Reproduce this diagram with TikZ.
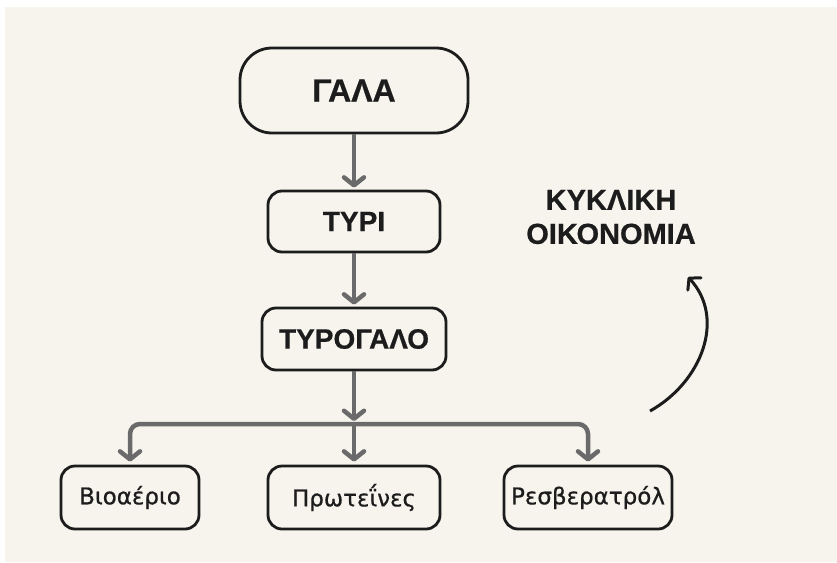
\documentclass[tikz,border=0pt]{standalone}
\usepackage{fontspec}
\setmainfont{Liberation Sans}[BoldFeatures={FakeBold=0.6}]
\newfontfamily\labelfont{DejaVu Sans}[FakeBold=0.7]
\usetikzlibrary{arrows.meta}
\definecolor{paper}{HTML}{F7F4EE}
\definecolor{ink}{HTML}{1C1C1C}
\definecolor{flow}{HTML}{6A6A6A}
\tikzset{
  box/.style={draw=ink, line width=2.8pt, fill=paper, rounded corners=14pt,
    align=center, inner sep=0pt, text=ink},
  conn/.style={draw=flow, line width=4.5pt,
    -{Straight Barb[length=8pt,width=20pt,line cap=round,line join=round]}},
  loop/.style={draw=ink, line width=3pt,
    -{Straight Barb[length=8pt,width=18pt,line cap=round,line join=round]}},
  bigtext/.style={font=\fontsize{32}{34}\selectfont\bfseries},
  midtext/.style={font=\fontsize{28}{30}\selectfont\bfseries},
  smalltext/.style={font=\labelfont\fontsize{23}{26}\selectfont}
}
\begin{document}
\begin{tikzpicture}[x=1pt,y=-1pt]
  \useasboundingbox (0,0) rectangle (837,562);
  \fill[white] (0,0) rectangle (837,562);
  \fill[paper] (5,7) rectangle (837,562);

  % main chain
  \node[box, bigtext, rounded corners=32pt, minimum width=228pt, minimum height=85pt]
    (gala) at (354,90.5) {ΓΑΛΑ};
  \node[box, midtext, minimum width=172pt, minimum height=61pt]
    (tyri) at (354,221.5) {ΤΥΡΙ};
  \node[box, midtext, minimum width=184pt, minimum height=62pt]
    (tyrogalo) at (354,339) {ΤΥΡΟΓΑΛΟ};

  % products
  \node[box, smalltext, minimum width=138pt, minimum height=63pt]
    (bio) at (130,497.5) {Βιοαέριο};
  \node[box, smalltext, minimum width=172pt, minimum height=63pt]
    (prot) at (354,497.5) {Πρωτεΐνες};
  \node[box, smalltext, minimum width=168pt, minimum height=63pt]
    (res) at (588,497.5) {Ρεσβερατρόλ};

  \coordinate (bar) at (354,424);

  \draw[conn] (gala.south) -- ([yshift=2pt]tyri.north);
  \draw[conn] (tyri.south) -- ([yshift=2pt]tyrogalo.north);
  \draw[conn] (tyrogalo.south) -- ([yshift=3pt]bar);
  \draw[conn] (bar) -- ([yshift=3pt]prot.north);
  \draw[conn, rounded corners=10pt] (bar) -| ([yshift=3pt]bio.north);
  \draw[conn, rounded corners=10pt] (bar) -| ([yshift=3pt]res.north);

  % circular economy label and curved arrow
  \node[text=ink, align=center, inner sep=0pt, font=\fontsize{29}{34}\selectfont\bfseries]
    (circ) at (611,217) {ΚΥΚΛΙΚΗ\\ΟΙΚΟΝΟΜΙΑ};
  \coordinate (loopstart) at (650,411);
  \coordinate (loopend) at (688,277);
  \draw[loop] (loopstart) .. controls (702,382) and (726,318) .. (loopend);
\end{tikzpicture}
\end{document}
